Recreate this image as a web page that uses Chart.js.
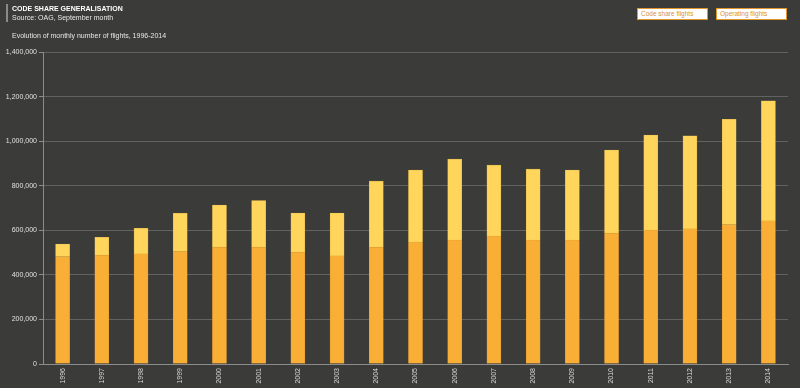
<!DOCTYPE html>
<html>
<head>
<meta charset="utf-8">
<script src="https://cdn.jsdelivr.net/npm/chart.js@4"></script>
<style>
    body { margin: 0; background: #3b3b3a; font-family: "Liberation Sans", Arial, sans-serif; }
    #wrap { position: relative; width: 800px; height: 388px; }
    #myChart { position: absolute; left: 0; top: 0; }
    .head { position: absolute; left: 6px; top: 4px; border-left: 2px solid #8a8a8a; padding-left: 4px; }
    .head b { display: block; color: #fff; font-size: 7px; line-height: 9px; }
    .head span { display: block; color: #e8e8e8; font-size: 7px; line-height: 9px; }
    .sub { position: absolute; left: 12px; top: 32px; color: #e6e6e6; font-size: 7px; }
    .lg { position: absolute; top: 8px; height: 10px; width: 66px; background: #fff; border: 1px solid #e0962a;
          color: #dc8f2a; font-size: 6.5px; line-height: 10px; padding-left: 3px; box-sizing: content-box; }
</style>
</head>
<body>
<div id="wrap">
    <canvas id="myChart" width="800" height="388"></canvas>
    <div class="head"><b>CODE SHARE GENERALISATION</b><span>Source: OAG, September month</span></div>
    <div class="sub">Evolution of monthly number of flights, 1996-2014</div>
    <div class="lg" style="left:637px">Code share flights</div>
    <div class="lg" style="left:716px">Operating flights</div>
</div>
<script>
// Years on the x axis
const years = ['1996', '1997', '1998', '1999', '2000', '2001', '2002', '2003', '2004', '2005',
    '2006', '2007', '2008', '2009', '2010', '2011', '2012', '2013', '2014'];

// Operating flights (bottom part of each bar)
const operatingFlights = [481000, 489000, 494000, 504000, 525000, 525000, 501000, 485000, 525000, 547000,
    556000, 574000, 556000, 556000, 588000, 601000, 606000, 625000, 642000];

// Total flights
const totalFlights = [538000, 568000, 609000, 676000, 713000, 733000, 677000, 677000, 821000, 870000,
    920000, 893000, 875000, 870000, 960000, 1027000, 1024000, 1098000, 1181000];

// Code share flights = total minus operating
const codeShareFlights = totalFlights.map((t, i) => t - operatingFlights[i]);

const yTicks = [0, 200000, 400000, 600000, 800000, 1000000, 1200000, 1400000];

let ctx = document.getElementById('myChart').getContext('2d');
let flightsChart = new Chart(ctx, {
    type: 'bar',
    data: {
        labels: years,
        datasets: [{
            label: 'Operating flights',
            data: operatingFlights,
            backgroundColor: '#f9af36',
            borderColor: '#d99a33',
            borderWidth: 0.5,
            barThickness: 14
        }, {
            label: 'Code share flights',
            data: codeShareFlights,
            backgroundColor: '#ffd65b',
            borderColor: '#d9b24a',
            borderWidth: 0.5,
            barThickness: 14
        }]
    },
    options: {
        responsive: false,
        animation: false,
        layout: { padding: { top: 52, right: 12, left: 0, bottom: 0 } },
        plugins: { legend: { display: false }, tooltip: { enabled: false } },
        scales: {
            x: {
                stacked: true,
                grid: { display: false, drawTicks: false },
                border: { color: '#8c8c8c', width: 1 },
                ticks: {
                    color: '#d8d8d8',
                    font: { size: 7, family: 'Liberation Sans' },
                    minRotation: 90, maxRotation: 90, padding: 4
                },
                afterFit: scale => { scale.height = 24; }
            },
            y: {
                stacked: true,
                min: 0, max: 1400000,
                afterBuildTicks: scale => { scale.ticks = yTicks.map(v => ({ value: v })); },
                grid: { color: '#626262', tickLength: 4, tickColor: '#8c8c8c' },
                border: { color: '#8c8c8c', width: 1 },
                ticks: {
                    color: '#e0e0e0',
                    font: { size: 7, family: 'Liberation Sans' },
                    padding: 2,
                    callback: v => v.toLocaleString('en-US')
                },
                afterFit: scale => { scale.width = 43; }
            }
        }
    }
});
</script>
</body>
</html>
